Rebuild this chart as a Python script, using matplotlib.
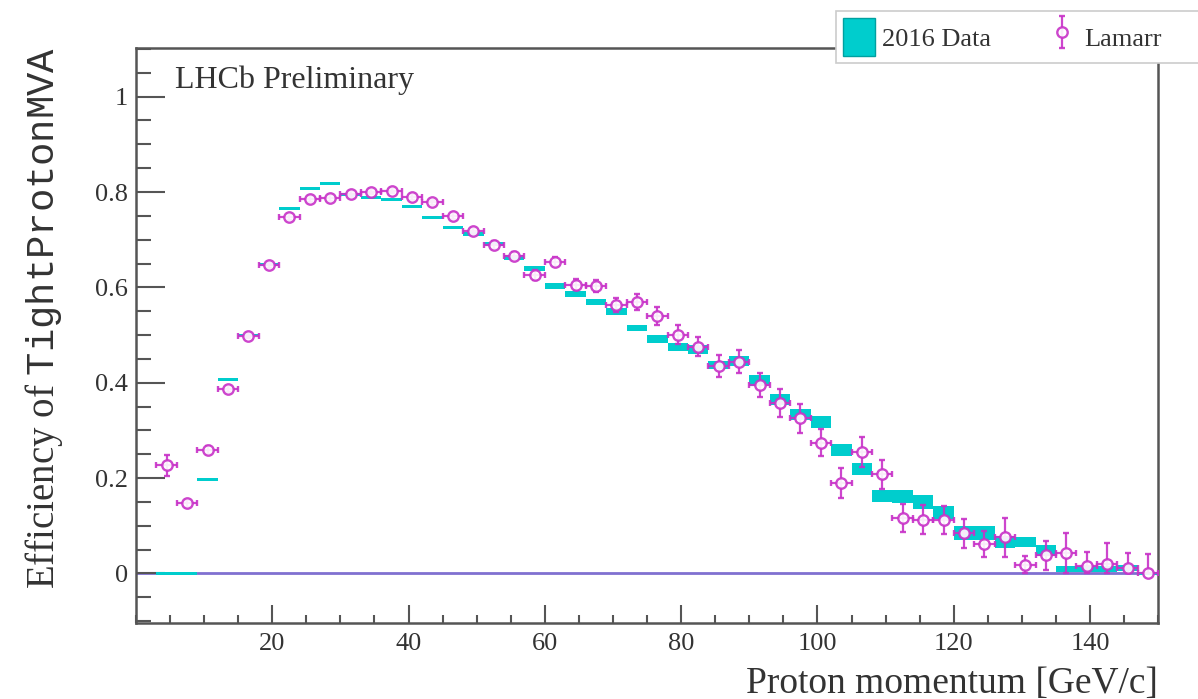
import numpy as np
import matplotlib
matplotlib.use("Agg")
import matplotlib.pyplot as plt
from matplotlib.ticker import MultipleLocator
from matplotlib.patches import Patch, Rectangle
from matplotlib.legend_handler import HandlerErrorbar

plt.rcParams['font.family'] = ['Liberation Serif', 'DejaVu Serif']
plt.rcParams['mathtext.fontset'] = 'custom'
plt.rcParams['mathtext.rm'] = 'Liberation Serif'
plt.rcParams['mathtext.tt'] = 'Liberation Mono'

# momentum bins: 3 GeV wide, from 3 to 150
bin_lo = np.arange(3, 150, 3)
bin_c = bin_lo + 1.5

# 2016 calibration data (efficiency, half height of the error box)
data_eff = [0.0, 0.0, 0.197, 0.406, 0.500, 0.648, 0.766, 0.808, 0.817, 0.795,
            0.789, 0.785, 0.769, 0.746, 0.725, 0.712, 0.691, 0.663, 0.640, 0.603,
            0.586, 0.569, 0.549, 0.515, 0.492, 0.475, 0.470, 0.437, 0.446, 0.405,
            0.365, 0.333, 0.318, 0.259, 0.219, 0.162, 0.161, 0.150, 0.128, 0.085,
            0.085, 0.066, 0.066, 0.048, 0.009, 0.009, 0.010, 0.012, 0.0]
data_err = [0.003, 0.003, 0.003, 0.003, 0.003, 0.003, 0.003, 0.003, 0.003, 0.003,
            0.003, 0.003, 0.003, 0.0035, 0.0035, 0.004, 0.004, 0.005, 0.005, 0.006,
            0.006, 0.006, 0.007, 0.007, 0.008, 0.008, 0.009, 0.009, 0.010, 0.011,
            0.012, 0.012, 0.012, 0.0125, 0.013, 0.013, 0.014, 0.014, 0.014, 0.014,
            0.014, 0.012, 0.011, 0.012, 0.006, 0.006, 0.006, 0.006, 0.003]

# Lamarr simulation
lam_eff = [0.227, 0.147, 0.259, 0.387, 0.499, 0.647, 0.748, 0.785, 0.788, 0.796,
           0.801, 0.803, 0.789, 0.778, 0.750, 0.718, 0.689, 0.666, 0.626, 0.654,
           0.606, 0.603, 0.563, 0.570, 0.540, 0.501, 0.475, 0.435, 0.444, 0.396,
           0.357, 0.325, 0.274, 0.190, 0.255, 0.208, 0.116, 0.113, 0.112, 0.084,
           0.0615, 0.0755, 0.017, 0.038, 0.043, 0.016, 0.019, 0.012, 0.0]
lam_err = [0.022, 0.008, 0.008, 0.006, 0.006, 0.006, 0.006, 0.006, 0.006, 0.006,
           0.006, 0.006, 0.006, 0.006, 0.007, 0.007, 0.008, 0.009, 0.010, 0.010,
           0.011, 0.012, 0.015, 0.017, 0.018, 0.020, 0.020, 0.023, 0.024, 0.025,
           0.029, 0.030, 0.028, 0.031, 0.032, 0.030, 0.029, 0.030, 0.030, 0.030,
           0.027, 0.040, 0.020, 0.030, 0.042, 0.030, 0.045, 0.030, 0.040]

cyan = '#00cdcd'
mag = '#c832c8'
txt = '#333333'

data_eff = np.array(data_eff)
data_err = np.array(data_err)
lam_eff = np.array(lam_eff)
lam_err = np.array(lam_err)
lam_lo = np.minimum(lam_err, lam_eff)

fig = plt.figure(figsize=(11.98, 6.99), dpi=100)
ax = fig.add_axes([0.1135, 0.1087, 0.8533, 0.8226])

ax.axhline(0, color='#8070d0', lw=2, zorder=1)
ax.bar(bin_c, 2 * data_err, bottom=data_eff - data_err, width=3,
       color=cyan, edgecolor='none', zorder=2)
lam = ax.errorbar(bin_c, lam_eff, xerr=1.5, yerr=[lam_lo, lam_err], fmt='o',
                  mfc='white', mec=mag, ecolor=mag, ms=7.5, mew=1.7,
                  elinewidth=1.6, capsize=2, capthick=1.4, alpha=0.9, zorder=3)

ax.set_xlim(0, 150)
ax.set_ylim(-0.104, 1.102)
ax.set_xticks([20, 40, 60, 80, 100, 120, 140])
ax.xaxis.set_minor_locator(MultipleLocator(5))
ax.set_yticks([0, 0.2, 0.4, 0.6, 0.8, 1.0], ['0', '0.2', '0.4', '0.6', '0.8', '1'])
ax.yaxis.set_minor_locator(MultipleLocator(0.05))

ax.tick_params(axis='both', which='both', direction='in', colors='#555555',
               labelcolor=txt, labelsize=19, width=1.5)
ax.tick_params(axis='y', which='major', length=21, pad=6)
ax.tick_params(axis='y', which='minor', length=11)
ax.tick_params(axis='x', which='major', length=13, pad=7)
ax.tick_params(axis='x', which='minor', length=6)
for s in ax.spines.values():
    s.set_color('#555555')
    s.set_linewidth(1.8)

ax.set_xlabel('Proton momentum [GeV/c]', fontsize=27, color=txt, loc='right')
ax.xaxis.set_label_coords(1.0, -0.076)
ax.set_ylabel(r'Efficiency of $\mathtt{TightProtonMVA}$', fontsize=28,
              color=txt, loc='top')
ax.yaxis.set_label_coords(-0.069, 1.003)

ax.text(0.038, 0.93, 'LHCb Preliminary', transform=ax.transAxes,
        fontsize=23, color=txt, va='baseline')

# legend box runs off the right edge of the figure
fig.patches.append(Rectangle((836 / 1198, 1 - 63 / 699), 0.4, 52 / 699,
                             transform=fig.transFigure, facecolor='white',
                             edgecolor='#cccccc', lw=1.2, zorder=5))
leg = fig.legend([Patch(facecolor=cyan, edgecolor='#00a0a0'), lam],
                 ['2016 Data', 'Lamarr'], loc='upper left',
                 bbox_to_anchor=(836 / 1198, 1 - 11 / 699), ncol=2,
                 fontsize=19, frameon=False, borderaxespad=0,
                 borderpad=0.28, handlelength=1.2, handleheight=1.8,
                 handletextpad=0.25, columnspacing=2.1,
                 handler_map={lam: HandlerErrorbar(xerr_size=0, yerr_size=0.6)})
leg.set_zorder(6)
for t in leg.get_texts():
    t.set_color(txt)

fig.savefig('out.png', dpi=100)
